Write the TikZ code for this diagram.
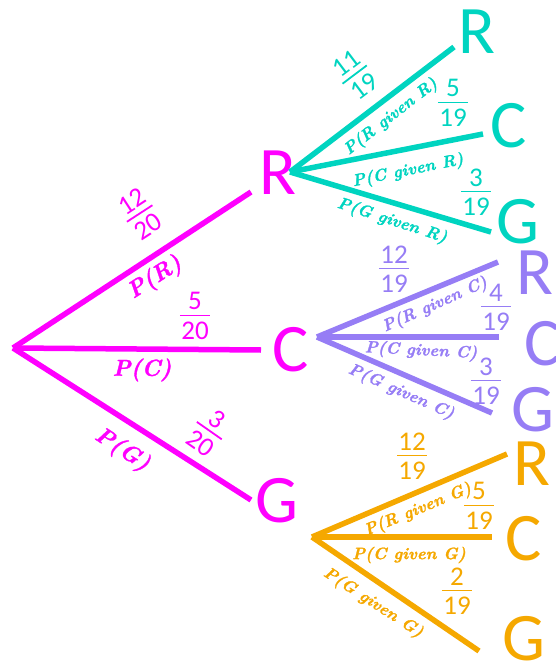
\documentclass[tikz,border=0pt]{standalone}
\usepackage{fontspec}
\newfontfamily\calib{Carlito}
\newfontfamily\labfont{lmroman10-bolditalic.otf}[FakeBold=1.5]
\definecolor{mag}{RGB}{255,0,255}
\definecolor{tealc}{RGB}{0,212,192}
\definecolor{purp}{RGB}{150,125,245}
\definecolor{orng}{RGB}{245,168,0}
\newcommand\myfrac[2]{\vbox{\offinterlineskip\halign{\hfil\kern1.5pt##\kern1.5pt\hfil\cr #1\cr\noalign{\kern4.5pt\hrule height 1.8pt\kern5.5pt}#2\cr}}}
\tikzset{
  letter/.style={font=\calib\fontsize{68}{68}\selectfont, inner sep=0pt},
  fracnode/.style={font=\calib\fontsize{27}{27}\selectfont, inner sep=0pt},
  lab/.style={font=\labfont\fontsize{16.5}{17}\selectfont, inner sep=0pt},
  biglab/.style={font=\labfont\fontsize{23}{24}\selectfont, inner sep=0pt},
  branch/.style={line width=5.5pt}
}
\begin{document}
\begin{tikzpicture}[x=1pt,y=-1pt]
\useasboundingbox (0,0) rectangle (555,666);
% ---------- coordinates ----------
\coordinate (O) at (13,348);
\coordinate (e1R) at (251,192);
\coordinate (e1C) at (261,350);
\coordinate (e1G) at (251,500);
\coordinate (sR) at (290,172);
\coordinate (sC) at (317,337);
\coordinate (sG) at (312,537);
\coordinate (eRR) at (454,47);
\coordinate (eRC) at (483,134);
\coordinate (eRG) at (491,232);
\coordinate (eCR) at (498,262);
\coordinate (eCC) at (499,337);
\coordinate (eCG) at (492,413);
\coordinate (eGR) at (507,454);
\coordinate (eGC) at (492,537);
\coordinate (eGG) at (479,651);
% ---------- level 1 ----------
\begin{scope}[mag]
\draw[branch] (O) -- (e1R);
\draw[branch] (O) -- (e1C);
\draw[branch] (O) -- (e1G);
\node[letter] (R1) at (278,173) {R};
\node[letter] (C1) at (291,350) {C};
\node[letter] (G1) at (277,501) {G};
\node[fracnode,rotate=33] (f1R) at (140,214) {\myfrac{12}{20}};
\node[fracnode] (f1C) at (195,316) {\myfrac{5}{20}};
\node[fracnode,rotate=-35] (f1G) at (209,431) {\myfrac{3}{20}};
\node[biglab,rotate=33] (p1R) at (155,278) {P(R)};
\node[biglab] (p1C) at (142,370) {P(C)};
\node[biglab,rotate=-33] (p1G) at (122,450) {P(G)};
\end{scope}
% ---------- R branch ----------
\begin{scope}[tealc]
\draw[branch] (sR) -- (eRR);
\draw[branch] (sR) -- (eRC);
\draw[branch] (sR) -- (eRG);
\node[letter] (RR) at (477,32) {R};
\node[letter] (RC) at (509,126) {C};
\node[letter] (RG) at (518,222) {G};
\node[fracnode,rotate=37] (fRR) at (355,75) {\myfrac{11}{19}};
\node[fracnode] (fRC) at (453,103) {\myfrac{5}{19}};
\node[fracnode] (fRG) at (476,192) {\myfrac{3}{19}};
\node[lab,rotate=38] (pRR) at (391,117) {P(R given R)};
\node[lab,rotate=11.5] (pRC) at (408,171) {P(C given R)};
\node[lab,rotate=-18] (pRG) at (392,221) {P(G given R)};
\end{scope}
% ---------- C branch ----------
\begin{scope}[purp]
\draw[branch] (sC) -- (eCR);
\draw[branch] (sC) -- (eCC);
\draw[branch] (sC) -- (eCG);
\node[letter] (CR) at (535,273) {R};
\node[letter] (CC) at (543,344) {C};
\node[letter] (CG) at (533,410) {G};
\node[fracnode] (fCR) at (394,269) {\myfrac{12}{19}};
\node[fracnode] (fCC) at (496,307) {\myfrac{4}{19}};
\node[fracnode] (fCG) at (486,381) {\myfrac{3}{19}};
\node[lab,rotate=24] (pCR) at (435,305) {P(R given C)};
\node[lab,rotate=-3] (pCC) at (421,351) {P(C given C)};
\node[lab,rotate=-24] (pCG) at (401,392) {P(G given C)};
\end{scope}
% ---------- G branch ----------
\begin{scope}[orng]
\draw[branch] (sG) -- (eGR);
\draw[branch] (sG) -- (eGC);
\draw[branch] (sG) -- (eGG);
\node[letter] (GR) at (532,464) {R};
\node[letter] (GC) at (524,539) {C};
\node[letter] (GG) at (524,639) {G};
\node[fracnode] (fGR) at (412,456) {\myfrac{12}{19}};
\node[fracnode] (fGC) at (479,506) {\myfrac{5}{19}};
\node[fracnode] (fGG) at (457,591) {\myfrac{2}{19}};
\node[lab,rotate=22.5] (pGR) at (418,510) {P(R given G)};
\node[lab] (pGC) at (409,555) {P(C given G)};
\node[lab,rotate=-33] (pGG) at (373,603) {P(G given G)};
\end{scope}
\end{tikzpicture}
\end{document}
